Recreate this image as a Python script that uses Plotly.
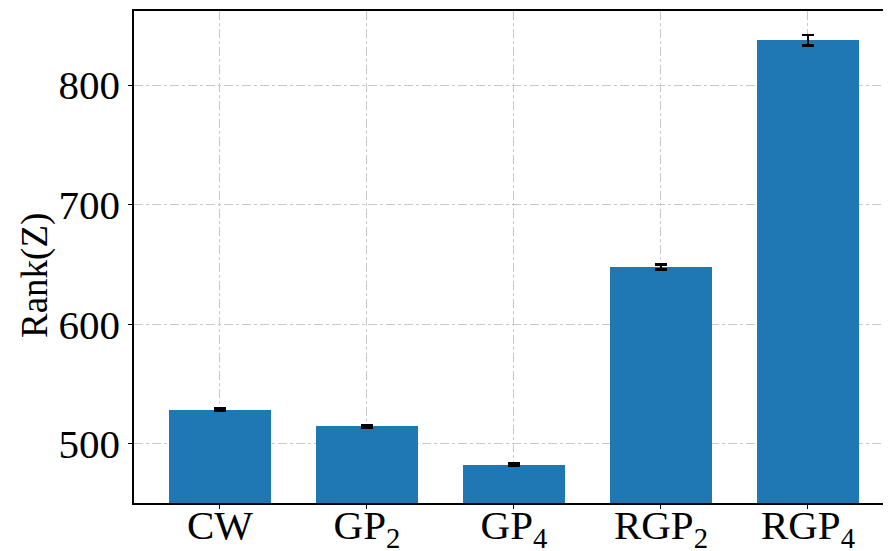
import plotly.graph_objects as go

categories = ["CW", "GP<sub>2</sub>", "GP<sub>4</sub>", "RGP<sub>2</sub>", "RGP<sub>4</sub>"]
values = [528.5, 514.5, 482.5, 648.0, 837.5]
errors = [1.0, 1.0, 1.0, 2.0, 4.5]
y_ticks = [500, 600, 700, 800]
y_title = "Rank(Z)"

fig = go.Figure()
fig.add_trace(go.Bar(
    x=list(range(len(categories))), y=values,
    width=0.7,
    marker=dict(color="#1f77b4", line=dict(width=0)),
    error_y=dict(type="data", array=errors, color="black", thickness=2.5, width=6),
))

# page body has an 8px default margin, so the figure is sized/offset to compensate
font = "Liberation Serif, Times New Roman, serif"
fig.update_layout(
    width=883, height=543,
    margin=dict(l=126, r=0, t=3, b=48, autoexpand=False),
    plot_bgcolor="white", paper_bgcolor="white",
    font=dict(family=font, size=41, color="black"),
    showlegend=False,
    bargap=0,
)
fig.update_xaxes(
    range=[-0.585, 4.565],
    tickmode="array", tickvals=list(range(len(categories))), ticktext=categories,
    showline=True, linecolor="black", linewidth=1.5, mirror=True,
    ticks="outside", ticklen=4, tickcolor="black",
    showgrid=True, gridcolor="#c8c8c8", griddash="dashdot", gridwidth=1,
    layer="above traces", automargin=False,
    tickfont=dict(size=41), ticklabelstandoff=-19,
)
fig.update_yaxes(
    range=[450.5, 862],
    tickmode="array", tickvals=y_ticks,
    showline=True, linecolor="black", linewidth=1.5,
    ticks="outside", ticklen=4, tickcolor="black",
    showgrid=True, gridcolor="#c8c8c8", griddash="dashdot", gridwidth=1,
    zeroline=False, automargin=False,
    layer="above traces",
    tickfont=dict(size=41),
)
fig.add_annotation(
    text=y_title, xref="paper", yref="paper", x=-0.131, y=0.463,
    xanchor="center", yanchor="middle", textangle=-90, showarrow=False,
    font=dict(size=37),
)
fig.write_html("out.html")
